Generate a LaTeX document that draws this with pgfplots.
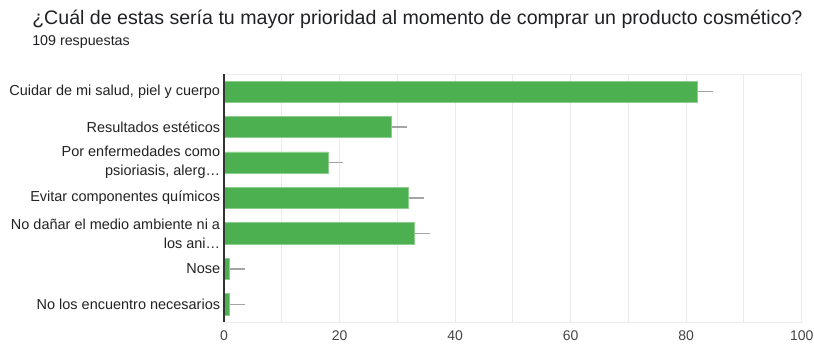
\documentclass[border=0pt]{standalone}
\usepackage{fontspec}
\setmainfont{Liberation Sans}
\usepackage{pgfplots}
\pgfplotsset{compat=1.18}
\definecolor{barfill}{RGB}{76,175,80}
\definecolor{baredge}{RGB}{140,205,142}
\definecolor{gridc}{RGB}{235,235,235}
\definecolor{titlec}{RGB}{32,33,36}
\definecolor{labc}{RGB}{34,34,34}
\definecolor{tickc}{RGB}{68,68,68}
\definecolor{errc}{RGB}{165,165,165}
\begin{document}
\begin{tikzpicture}
\useasboundingbox (0,0) rectangle (610.5pt,260.25pt);
\node[anchor=base west, inner sep=0, text=titlec, font=\fontsize{14.7}{17}\selectfont] at (24pt,241.5pt) {¿Cuál de estas sería tu mayor prioridad al momento de comprar un producto cosmético?};
\node[anchor=base west, inner sep=0, text=titlec, font=\fontsize{10.7}{13}\selectfont] at (24pt,226pt) {109 respuestas};
\begin{axis}[
  at={(168pt,18.75pt)}, anchor=south west,
  scale only axis, width=433.3pt, height=186pt,
  xbar, bar width=0.6,
  xmin=0, xmax=100,
  ymin=-0.5, ymax=6.5, y dir=reverse,
  xtick={0,20,...,100}, minor xtick={10,30,50,70,90},
  ytick={0,...,6},
  yticklabels={
    {Cuidar de mi salud, piel y cuerpo},
    {Resultados estéticos},
    {Por enfermedades como\\psioriasis, alerg…},
    {Evitar componentes químicos},
    {No dañar el medio ambiente ni a\\los ani…},
    {Nose},
    {No los encuentro necesarios}},
  yticklabel style={align=right, text=labc, font=\fontsize{10.85}{14.25}\selectfont, xshift=0.6pt},
  xticklabel style={text=tickc, font=\fontsize{10.5}{12}\selectfont, yshift=-3pt},
  /pgf/number format/assume math mode=true,
  grid=both, xmajorgrids, xminorgrids, ymajorgrids=false, yminorgrids=false,
  major grid style={gridc, line width=0.75pt},
  minor grid style={gridc, line width=0.75pt},
  axis line style={gridc, line width=0.75pt},
  major tick length=0pt, minor tick length=0pt,
  tick style={draw=none},
  clip=false,
]
\addplot[fill=barfill, draw=baredge, line width=0.6pt,
  error bars/.cd, x dir=plus, x explicit, error mark=none,
  error bar style={errc, line width=1pt}]
  coordinates {
    (82,0) +- (2.6,0)
    (29,1) +- (2.6,0)
    (18,2) +- (2.6,0)
    (32,3) +- (2.6,0)
    (33,4) +- (2.6,0)
    (1,5) +- (2.6,0)
    (1,6) +- (2.6,0)
  };
\draw[black!80, line width=1.1pt] (rel axis cs:0,0) -- (rel axis cs:0,1);
\end{axis}
\end{tikzpicture}
\end{document}
